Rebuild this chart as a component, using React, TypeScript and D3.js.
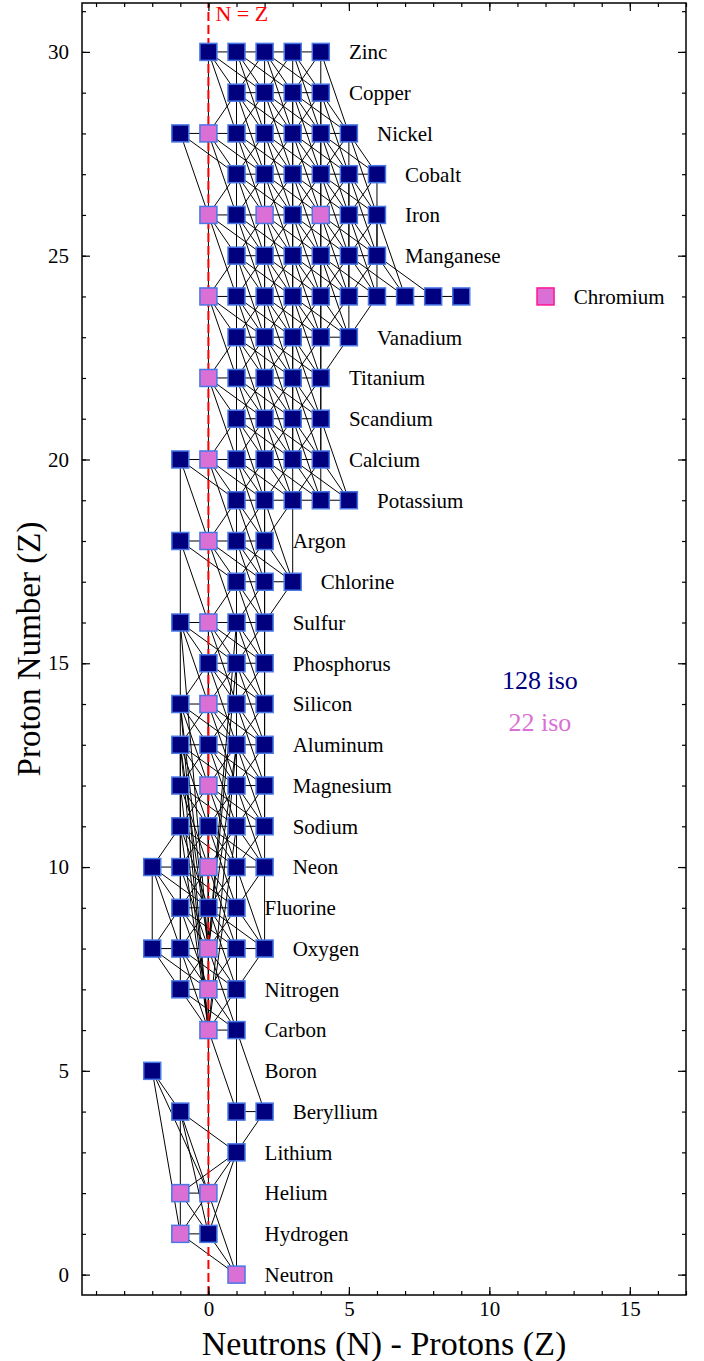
import React, { useEffect, useRef } from "react";
import * as d3 from "d3";

// element names, index = proton number Z
const elements = [
  "Neutron", "Hydrogen", "Helium", "Lithium", "Beryllium", "Boron", "Carbon",
  "Nitrogen", "Oxygen", "Fluorine", "Neon", "Sodium", "Magnesium", "Aluminum",
  "Silicon", "Phosphorus", "Sulfur", "Chlorine", "Argon", "Potassium", "Calcium",
  "Scandium", "Titanium", "Vanadium", "Chromium", "Manganese", "Iron", "Cobalt",
  "Nickel", "Copper", "Zinc",
];

// N - Z of the isotopes in each row (index = Z)
const blueIso: number[][] = [
  [], [0], [], [1], [-1, 1, 2], [-2], [1], [-1, 1], [-2, -1, 1, 2], [-1, 0, 1],
  [-2, -1, 1, 2], [-1, 0, 1, 2], [-1, 1, 2], [-1, 0, 1, 2], [-1, 1, 2], [0, 1, 2],
  [-1, 1, 2], [1, 2, 3], [-1, 1, 2], [1, 2, 3, 4, 5], [-1, 1, 2, 3, 4], [1, 2, 3, 4],
  [1, 2, 3, 4], [1, 2, 3, 4, 5], [1, 2, 3, 4, 5, 6, 7, 8, 9], [1, 2, 3, 4, 5, 6],
  [1, 3, 5, 6], [1, 2, 3, 4, 5, 6], [-1, 1, 2, 3, 4, 5], [1, 2, 3, 4], [0, 1, 2, 3, 4],
];
const pinkIso: number[][] = [
  [1], [-1], [-1, 0], [], [], [], [0], [0], [0], [], [0], [], [0], [], [0], [],
  [0], [], [0], [], [0], [], [0], [], [0], [], [0, 2, 4], [], [0], [], [],
];
// extra highlighted isotope [N - Z, Z]
const markedIso: [number, number][] = [[12, 24]];

// reaction steps [d(N-Z), dZ] linking isotopes from Carbon upwards
const reactionSteps: [number, number][] = [[1, 0], [0, 2], [-1, 1], [1, 1], [-1, 2], [-2, 1]];

// links among the light isotopes [x1, z1, x2, z2]
const lightLinks: number[][] = [
  [-1, 1, 0, 1], [-1, 2, 0, 2], [-1, 1, -1, 2], [-1, 1, 0, 2], [0, 1, -1, 2], [0, 1, 0, 2],
  [-1, 1, 1, 0], [0, 1, 1, 0], [0, 2, 1, 0], [1, 0, 1, 3], [0, 2, 1, 3], [-1, 2, 1, 3],
  [0, 1, 1, 3], [-1, 4, 1, 3], [-1, 4, -1, 2], [-1, 4, 0, 2], [-1, 4, 0, 1],
  [-2, 5, -1, 4], [-2, 5, 0, 2], [-2, 5, -1, 1], [1, 3, 1, 4], [1, 3, 2, 4], [1, 4, 2, 4],
  [0, 2, 0, 6], [1, 4, 0, 6], [1, 4, 1, 6], [2, 4, 1, 6],
];
// heavy-ion links from C12 and O16
const heavyIonLinks: number[][] = [
  [0, 6, 0, 10], [0, 6, 1, 11], [0, 6, -1, 11], [0, 6, -1, 12], [0, 6, 0, 12],
  [0, 6, -1, 13], [0, 6, 1, 13], [0, 6, -1, 14], [0, 6, 0, 14],
  [0, 8, 0, 12], [0, 8, -1, 13], [0, 8, 1, 13], [0, 8, -1, 14], [0, 8, 0, 14],
  [0, 8, 1, 15], [0, 8, 0, 15], [0, 8, -1, 16], [0, 8, 0, 16], [0, 8, 1, 16],
];

const isoCounts = [
  { label: "128 iso", color: "#00007f" },
  { label: "22 iso", color: "#da70d6" },
];

const FONT = "'Liberation Serif', 'Times New Roman', serif";
const NAVY = "#00007f";
const ORCHID = "#da70d6";
const EDGE = "#4877e6";

const App = () => {
  const svgRef = useRef<SVGSVGElement>(null);

  useEffect(() => {
    const svg = d3.select(svgRef.current);
    svg.selectAll("*").remove();
    const margin = { top: 3, right: 18, bottom: 66, left: 82 };
    const W = 704;
    const H = 1361;

    const x = d3.scaleLinear().domain([-4.5, 17]).range([margin.left, W - margin.right]);
    const y = d3.scaleLinear().domain([-0.5, 31.2]).range([H - margin.bottom, margin.top]);

    const nodes: { dx: number; z: number; kind: string }[] = [];
    blueIso.forEach((row, z) => row.forEach((dx) => nodes.push({ dx, z, kind: "blue" })));
    pinkIso.forEach((row, z) => row.forEach((dx) => nodes.push({ dx, z, kind: "pink" })));
    const has = new Set(nodes.map((n) => `${n.dx},${n.z}`));

    const links: number[][] = [...lightLinks, ...heavyIonLinks];
    nodes.forEach((n) => {
      if (n.z < 6) return;
      reactionSteps.forEach(([sx, sz]) => {
        if (has.has(`${n.dx + sx},${n.z + sz}`)) links.push([n.dx, n.z, n.dx + sx, n.z + sz]);
      });
    });

    const g = svg.append("g");

    g.selectAll("line.link")
      .data(links)
      .enter()
      .append("line")
      .attr("x1", (d) => x(d[0]))
      .attr("y1", (d) => y(d[1]))
      .attr("x2", (d) => x(d[2]))
      .attr("y2", (d) => y(d[3]))
      .attr("stroke", "#000")
      .attr("stroke-width", 1);

    // N = Z line
    g.append("line")
      .attr("x1", x(0))
      .attr("x2", x(0))
      .attr("y1", y(-0.5))
      .attr("y2", y(31.2))
      .attr("stroke", "#ff0000")
      .attr("stroke-width", 2)
      .attr("stroke-dasharray", "9,4");
    g.append("text")
      .attr("x", x(0.25))
      .attr("y", y(30.75))
      .attr("fill", "#ff0000")
      .attr("font-family", FONT)
      .attr("font-size", 22)
      .text("N = Z");

    const size = 17;
    g.selectAll("rect.iso")
      .data(nodes)
      .enter()
      .append("rect")
      .attr("x", (d) => x(d.dx) - size / 2)
      .attr("y", (d) => y(d.z) - size / 2)
      .attr("width", size)
      .attr("height", size)
      .attr("fill", (d) => (d.kind === "blue" ? NAVY : ORCHID))
      .attr("stroke", EDGE)
      .attr("stroke-width", 1.5);

    g.selectAll("rect.mark")
      .data(markedIso)
      .enter()
      .append("rect")
      .attr("x", (d) => x(d[0]) - size / 2)
      .attr("y", (d) => y(d[1]) - size / 2)
      .attr("width", size)
      .attr("height", size)
      .attr("fill", ORCHID)
      .attr("stroke", "#ff1493")
      .attr("stroke-width", 1.5);

    // element labels to the right of each row
    const lastX = elements.map((_, z) => {
      const xs = [...blueIso[z], ...pinkIso[z], ...markedIso.filter((m) => m[1] === z).map((m) => m[0])];
      return Math.max(d3.max(xs) ?? 0, 1) + 1;
    });
    g.selectAll("text.el")
      .data(elements)
      .enter()
      .append("text")
      .attr("x", (_, z) => x(lastX[z]))
      .attr("y", (_, z) => y(z))
      .attr("dy", "0.35em")
      .attr("font-family", FONT)
      .attr("font-size", 21)
      .text((d) => d);

    isoCounts.forEach((c, i) => {
      g.append("text")
        .attr("x", x(11.8))
        .attr("y", y(14.6 - i * 1.05))
        .attr("dy", "0.35em")
        .attr("text-anchor", "middle")
        .attr("fill", c.color)
        .attr("font-family", FONT)
        .attr("font-size", 26)
        .text(c.label);
    });

    // axes with inward ticks
    const style = (sel: any) => {
      sel.select(".domain").remove();
      sel.selectAll("line").attr("stroke", "#000").attr("stroke-width", 1.2);
      sel.selectAll("text").attr("font-family", FONT).attr("font-size", 21).attr("fill", "#000");
    };
    const xMinor = d3.range(-4, 18);
    const yMinor = d3.range(0, 32);
    const xMajor = [0, 5, 10, 15];
    const yMajor = [0, 5, 10, 15, 20, 25, 30];
    const bottom = H - margin.bottom;
    const top = margin.top;
    const left = margin.left;
    const right = W - margin.right;

    g.append("g").attr("transform", `translate(0,${bottom})`)
      .call(d3.axisBottom(x).tickValues(xMinor).tickSize(-4).tickFormat(() => "")).call(style);
    g.append("g").attr("transform", `translate(0,${bottom})`)
      .call(d3.axisBottom(x).tickValues(xMajor).tickSize(-8).tickPadding(6).tickFormat(d3.format("d"))).call(style);
    g.append("g").attr("transform", `translate(0,${top})`)
      .call(d3.axisTop(x).tickValues(xMinor).tickSize(-4).tickFormat(() => "")).call(style);
    g.append("g").attr("transform", `translate(0,${top})`)
      .call(d3.axisTop(x).tickValues(xMajor).tickSize(-8).tickFormat(() => "")).call(style);
    g.append("g").attr("transform", `translate(${left},0)`)
      .call(d3.axisLeft(y).tickValues(yMinor).tickSize(-4).tickFormat(() => "")).call(style);
    g.append("g").attr("transform", `translate(${left},0)`)
      .call(d3.axisLeft(y).tickValues(yMajor).tickSize(-8).tickPadding(13).tickFormat(d3.format("d"))).call(style);
    g.append("g").attr("transform", `translate(${right},0)`)
      .call(d3.axisRight(y).tickValues(yMinor).tickSize(-4).tickFormat(() => "")).call(style);
    g.append("g").attr("transform", `translate(${right},0)`)
      .call(d3.axisRight(y).tickValues(yMajor).tickSize(-8).tickFormat(() => "")).call(style);

    g.append("rect")
      .attr("x", left)
      .attr("y", top)
      .attr("width", right - left)
      .attr("height", bottom - top)
      .attr("fill", "none")
      .attr("stroke", "#000")
      .attr("stroke-width", 1.5);

    g.append("text")
      .attr("x", (left + right) / 2)
      .attr("y", H - 6)
      .attr("text-anchor", "middle")
      .attr("font-family", FONT)
      .attr("font-size", 34)
      .text("Neutrons (N) - Protons (Z)");
    g.append("text")
      .attr("transform", `translate(40,${(top + bottom) / 2}) rotate(-90)`)
      .attr("text-anchor", "middle")
      .attr("font-family", FONT)
      .attr("font-size", 33)
      .text("Proton Number (Z)");
  }, []);

  return (
    <svg
      ref={svgRef}
      width={704}
      height={1361}
      style={{ position: "absolute", left: 0, top: 0, background: "#fff" }}
    ></svg>
  );
};

export default App;
